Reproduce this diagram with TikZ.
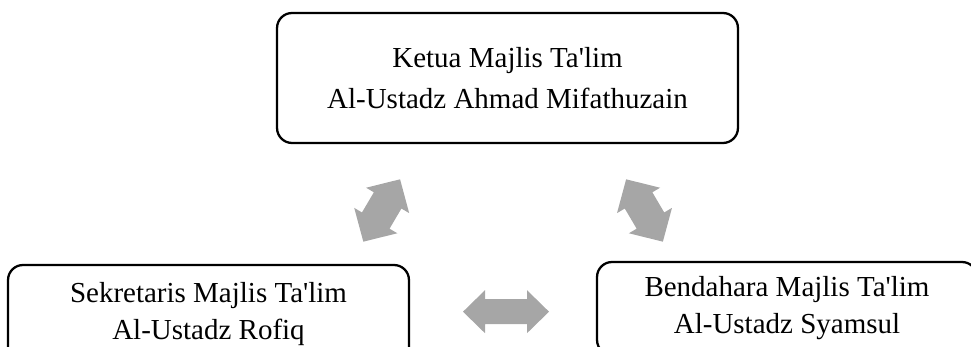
\documentclass[tikz,border=0pt]{standalone}
\usepackage{fontspec}
\setmainfont{Liberation Serif}
\usepackage{xcolor}
\definecolor{arrowgrey}{HTML}{A6A6A6}

\begin{document}
\begin{tikzpicture}[
    x=0.02cm, y=-0.02cm,
    box/.style={draw, rounded corners=0.3cm, line width=1.3pt, align=center, inner sep=0pt},
    % half length / head length / head half width / shaft half width
    pics/twoway/.style n args={4}{code={
        \fill[arrowgrey] (-#1,0) -- ({-#1+#2},-#3) -- ({-#1+#2},-#4) -- ({#1-#2},-#4)
            -- ({#1-#2},-#3) -- (#1,0) -- ({#1-#2},#3) -- ({#1-#2},#4)
            -- ({-#1+#2},#4) -- ({-#1+#2},#3) -- cycle;
    }}
]
\clip (0,0) rectangle (971,347);
% the three officers
\node[box, minimum width=9.22cm, minimum height=2.6cm,
      font=\fontsize{16.5}{23.3}\selectfont] (ketua) at (507.5,78)
    {Ketua Majlis Ta\textquotesingle lim\\Al-Ustadz Ahmad Mifathuzain};
\node[box, minimum width=8.02cm, minimum height=1.96cm,
      font=\fontsize{16.5}{21}\selectfont] (sekretaris) at (208.5,314)
    {Sekretaris Majlis Ta\textquotesingle lim\\Al-Ustadz Rofiq};
\node[box, minimum width=7.6cm, minimum height=1.86cm,
      font=\fontsize{16.5}{21}\selectfont] (bendahara) at (787,308.5)
    {Bendahara Majlis Ta\textquotesingle lim\\Al-Ustadz Syamsul};
% the links between them
\pic[rotate=59.5] (ks) at (381.7,210.5) {twoway={36.2}{24.5}{25}{16}};
\pic[rotate=-59.5] (kb) at (644.5,210.5) {twoway={36.2}{24.5}{25}{16}};
\pic (sb) at (506,311.7) {twoway={43}{22}{21.5}{12.5}};
\end{tikzpicture}
\end{document}
